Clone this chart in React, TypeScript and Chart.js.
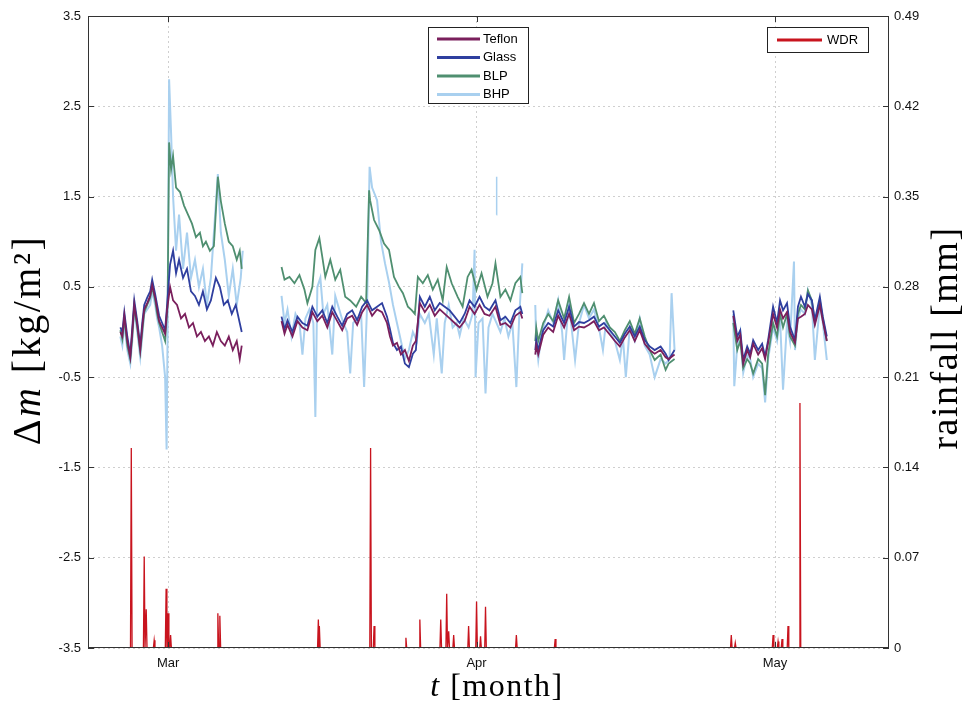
import React, { useEffect, useRef } from 'react';
import { Chart, registerables } from 'chart.js';

Chart.register(...registerables);

// x values are days counted from 1 March (Apr 1 = 31, May 1 = 61)
const monthTicks = [0, 31, 61];
const monthLabels = ['Mar', 'Apr', 'May'];
const leftTicks = [-3.5, -2.5, -1.5, -0.5, 0.5, 1.5, 2.5, 3.5];
const rightTicks = [0, 0.07, 0.14, 0.21, 0.28, 0.35, 0.42, 0.49];

type P = [number, number | null];

const teflon: P[] = [
  [-4.8, 0.0], [-4.6, -0.05], [-4.4, 0.18], [-4.1, -0.1], [-3.8, -0.28], [-3.6, 0.0], [-3.4, 0.3], [-3.1, 0.08], [-2.8, -0.2], [-2.6, 0.05],
  [-2.4, 0.25], [-2.1, 0.32], [-1.8, 0.4], [-1.6, 0.52], [-1.3, 0.38], [-1.1, 0.25], [-0.9, 0.12], [-0.6, 0.05], [-0.3, -0.02], [-0.1, 0.25],
  [0.2, 0.5], [0.5, 0.35], [0.9, 0.3], [1.3, 0.15], [1.7, 0.2], [2.1, 0.05], [2.5, 0.1], [2.9, -0.05], [3.3, 0.0], [3.7, -0.1],
  [4.1, -0.05], [4.5, -0.15], [4.9, 0.0], [5.3, -0.1], [5.7, -0.15], [6.1, -0.05], [6.5, -0.2], [6.9, -0.1], [7.2, -0.3], [7.4, -0.15],
  [9.5, null],
  [11.4, 0.12], [11.7, -0.02], [12.0, 0.08], [12.5, -0.05], [13.0, 0.12], [13.5, 0.05], [14.0, 0.02], [14.5, 0.22], [15.0, 0.12], [15.5, 0.18],
  [16.0, 0.05], [16.5, 0.22], [17.0, 0.12], [17.5, 0.02], [18.0, 0.15], [18.5, 0.18], [19.0, 0.08], [19.5, 0.22], [20.0, 0.3], [20.5, 0.18],
  [21.0, 0.25], [21.5, 0.22], [22.0, 0.1], [22.3, -0.05], [22.6, -0.15], [23.0, -0.12], [23.4, -0.25], [23.8, -0.2], [24.2, -0.32], [24.6, -0.15],
  [24.9, -0.1], [25.3, 0.32], [25.8, 0.22], [26.3, 0.3], [26.8, 0.18], [27.3, 0.25], [27.8, 0.2], [28.3, 0.15], [28.8, 0.1], [29.3, 0.05],
  [29.8, 0.12], [30.3, 0.28], [30.8, 0.2], [31.3, 0.3], [31.8, 0.2], [32.3, 0.18], [32.9, 0.28], [33.4, 0.08], [33.9, 0.1], [34.4, 0.05],
  [34.9, 0.18], [35.4, 0.22], [35.6, 0.15],
  [36.2, null],
  [36.9, -0.25], [37.0, -0.15], [37.2, -0.25], [37.7, -0.03], [38.2, 0.05], [38.7, 0.0], [39.2, 0.18], [39.8, 0.05], [40.3, 0.2], [40.8, 0.02],
  [41.3, 0.06], [41.8, 0.05], [42.3, 0.08], [42.8, 0.12], [43.3, 0.02], [43.8, 0.05], [44.4, -0.03], [44.9, -0.1], [45.4, -0.16], [45.9, -0.06],
  [46.4, 0.02], [46.9, -0.1], [47.4, 0.02], [47.9, -0.13], [48.4, -0.2], [48.9, -0.24], [49.5, -0.2], [50.0, -0.28], [50.3, -0.3], [50.9, -0.25],
  [54, null],
  [56.8, 0.18], [57.2, -0.1], [57.5, -0.03], [57.8, -0.35], [58.2, -0.2], [58.5, -0.28], [58.8, -0.13], [59.3, -0.25], [59.7, -0.18], [60.0, -0.3],
  [60.3, -0.12], [60.8, 0.2], [61.2, 0.05], [61.5, 0.25], [61.8, 0.15], [62.2, 0.22], [62.5, 0.0], [63.0, -0.12], [63.3, 0.15], [63.6, 0.17],
  [64.0, 0.2], [64.3, 0.3], [64.7, 0.25], [65.0, 0.08], [65.5, 0.3], [65.8, 0.12], [66.2, -0.1],
];

const glass: P[] = [
  [-4.8, 0.05], [-4.6, 0.0], [-4.4, 0.22], [-4.1, -0.05], [-3.8, -0.25], [-3.6, 0.05], [-3.4, 0.35], [-3.1, 0.12], [-2.8, -0.15], [-2.6, 0.1],
  [-2.4, 0.3], [-2.1, 0.38], [-1.8, 0.45], [-1.6, 0.58], [-1.3, 0.42], [-1.1, 0.3], [-0.9, 0.18], [-0.6, 0.1], [-0.3, 0.02], [-0.1, 0.3],
  [0.2, 0.75], [0.5, 0.9], [0.8, 0.65], [1.1, 0.8], [1.5, 0.6], [1.9, 0.7], [2.3, 0.45], [2.7, 0.4], [3.1, 0.3], [3.5, 0.45],
  [3.9, 0.25], [4.3, 0.35], [4.8, 0.6], [5.2, 0.5], [5.6, 0.3], [6.0, 0.35], [6.4, 0.2], [6.8, 0.3], [7.2, 0.1], [7.4, 0.0],
  [9.5, null],
  [11.4, 0.17], [11.7, 0.03], [12.0, 0.13], [12.5, 0.0], [13.0, 0.17], [13.5, 0.1], [14.0, 0.07], [14.5, 0.28], [15.0, 0.17], [15.5, 0.24],
  [16.0, 0.1], [16.5, 0.28], [17.0, 0.17], [17.5, 0.07], [18.0, 0.2], [18.5, 0.24], [19.0, 0.13], [19.5, 0.28], [20.0, 0.35], [20.5, 0.24],
  [21.0, 0.28], [21.5, 0.32], [22.0, 0.17], [22.3, 0.03], [22.6, -0.12], [23.0, -0.2], [23.4, -0.16], [23.8, -0.35], [24.2, -0.39], [24.6, -0.24],
  [24.9, -0.2], [25.3, 0.39], [25.8, 0.28], [26.3, 0.39], [26.8, 0.24], [27.3, 0.32], [27.8, 0.28], [28.3, 0.24], [28.8, 0.17], [29.3, 0.1],
  [29.8, 0.2], [30.3, 0.35], [30.8, 0.28], [31.3, 0.39], [31.8, 0.28], [32.3, 0.24], [32.9, 0.35], [33.4, 0.13], [33.9, 0.17], [34.4, 0.1],
  [34.9, 0.24], [35.4, 0.28], [35.6, 0.2],
  [36.2, null],
  [36.9, -0.2], [37.0, -0.09], [37.2, -0.2], [37.7, 0.02], [38.2, 0.1], [38.7, 0.06], [39.2, 0.24], [39.8, 0.1], [40.3, 0.28], [40.8, 0.06],
  [41.3, 0.11], [41.8, 0.1], [42.3, 0.13], [42.8, 0.17], [43.3, 0.06], [43.8, 0.1], [44.4, 0.02], [44.9, -0.05], [45.4, -0.12], [45.9, -0.02],
  [46.4, 0.06], [46.9, -0.05], [47.4, 0.06], [47.9, -0.09], [48.4, -0.16], [48.9, -0.2], [49.5, -0.16], [50.0, -0.24], [50.3, -0.31], [50.9, -0.2],
  [54, null],
  [56.8, 0.24], [57.2, -0.05], [57.5, 0.02], [57.8, -0.31], [58.2, -0.16], [58.5, -0.24], [58.8, -0.09], [59.3, -0.2], [59.7, -0.13], [60.0, -0.27],
  [60.3, -0.09], [60.8, 0.28], [61.2, 0.1], [61.5, 0.35], [61.8, 0.24], [62.2, 0.32], [62.5, 0.06], [63.0, -0.09], [63.3, 0.28], [63.6, 0.39],
  [64.0, 0.28], [64.3, 0.42], [64.7, 0.35], [65.0, 0.13], [65.5, 0.39], [65.8, 0.17], [66.2, -0.05],
];

const blp: P[] = [
  [-4.8, 0.02], [-4.6, -0.08], [-4.4, 0.15], [-4.1, -0.15], [-3.8, -0.3], [-3.6, -0.05], [-3.4, 0.28], [-3.1, 0.05], [-2.8, -0.22], [-2.6, 0.0],
  [-2.4, 0.22], [-2.1, 0.3], [-1.8, 0.38], [-1.6, 0.5], [-1.3, 0.35], [-1.1, 0.2], [-0.9, 0.1], [-0.6, 0.0], [-0.3, -0.1], [-0.05, 0.3],
  [0.1, 2.1], [0.3, 1.8], [0.5, 1.95], [0.8, 1.6], [1.2, 1.55], [1.6, 1.4], [2.0, 1.3], [2.4, 1.2], [2.8, 1.05], [3.2, 1.1],
  [3.5, 0.95], [3.8, 1.0], [4.2, 0.9], [4.6, 0.95], [5.0, 1.72], [5.3, 1.45], [5.7, 1.2], [6.1, 1.0], [6.5, 0.95], [6.9, 0.8],
  [7.2, 0.9], [7.4, 0.7],
  [9.5, null],
  [11.4, 0.72], [11.7, 0.58], [12.2, 0.61], [12.7, 0.54], [13.2, 0.63], [13.7, 0.47], [14.0, 0.32], [14.5, 0.5], [14.8, 0.91], [15.2, 1.04],
  [15.5, 0.83], [15.8, 0.61], [16.3, 0.8], [16.8, 0.58], [17.3, 0.69], [17.8, 0.39], [18.3, 0.35], [18.9, 0.28], [19.4, 0.39], [19.9, 0.32],
  [20.2, 1.57], [20.3, 1.46], [20.7, 1.24], [21.2, 1.13], [21.7, 0.98], [22.2, 0.91], [22.7, 0.61], [23.2, 0.5], [23.6, 0.43], [24.1, 0.28],
  [24.5, 0.24], [24.8, 0.2], [25.1, 0.61], [25.6, 0.54], [26.1, 0.63], [26.6, 0.47], [27.1, 0.58], [27.6, 0.35], [28.0, 0.72], [28.5, 0.54],
  [29.1, 0.39], [29.6, 0.28], [30.1, 0.61], [30.5, 0.69], [31.0, 0.47], [31.5, 0.65], [32.1, 0.39], [32.6, 0.54], [32.9, 0.76], [33.4, 0.39],
  [33.9, 0.47], [34.4, 0.35], [34.9, 0.54], [35.4, 0.61], [35.6, 0.43],
  [36.2, null],
  [36.9, -0.1], [37.0, 0.05], [37.2, -0.1], [37.7, 0.1], [38.2, 0.2], [38.7, 0.12], [39.2, 0.35], [39.8, 0.15], [40.3, 0.39], [40.8, 0.1],
  [41.3, 0.2], [41.8, 0.32], [42.3, 0.2], [42.8, 0.32], [43.3, 0.12], [43.8, 0.18], [44.4, 0.05], [44.9, 0.0], [45.4, -0.1], [45.9, 0.02],
  [46.4, 0.12], [46.9, -0.02], [47.4, 0.15], [47.9, -0.05], [48.4, -0.2], [48.9, -0.31], [49.5, -0.25], [50.0, -0.42], [50.3, -0.35], [50.9, -0.3],
  [54, null],
  [56.8, 0.1], [57.2, -0.2], [57.5, -0.1], [57.8, -0.4], [58.2, -0.3], [58.5, -0.35], [58.8, -0.46], [59.3, -0.3], [59.7, -0.35], [60.0, -0.7],
  [60.3, -0.25], [60.8, 0.1], [61.2, -0.05], [61.5, 0.2], [61.8, 0.05], [62.2, 0.2], [62.5, -0.05], [63.0, -0.15], [63.3, 0.2], [63.6, 0.3],
  [64.0, 0.25], [64.3, 0.46], [64.7, 0.35], [65.0, 0.1], [65.5, 0.35], [65.8, 0.15], [66.2, -0.1],
];

const bhp: P[] = [
  [-4.8, -0.05], [-4.6, -0.15], [-4.4, 0.1], [-4.1, -0.2], [-3.8, -0.35], [-3.6, -0.1], [-3.4, 0.25], [-3.1, 0.0], [-2.8, -0.28], [-2.6, -0.05],
  [-2.4, 0.2], [-2.1, 0.25], [-1.8, 0.3], [-1.6, 0.45], [-1.3, 0.3], [-1.1, 0.15], [-0.9, 0.05], [-0.6, -0.15], [-0.3, -0.5], [-0.15, -1.3],
  [-0.05, 0.0], [0.1, 2.8], [0.3, 2.2], [0.5, 1.5], [0.8, 0.9], [1.1, 1.3], [1.5, 0.7], [1.9, 1.1], [2.3, 0.6], [2.7, 0.8],
  [3.1, 0.5], [3.5, 0.7], [3.9, 0.3], [4.3, 0.6], [5.0, 1.75], [5.3, 1.1], [5.7, 0.8], [6.1, 0.4], [6.5, 0.7], [6.9, 0.3],
  [7.3, 0.6], [7.5, 0.9],
  [9.5, null],
  [11.4, 0.4], [11.7, 0.1], [12.0, 0.25], [12.4, -0.05], [12.8, 0.2], [13.2, 0.1], [13.5, -0.25], [13.8, 0.15], [14.2, 0.25], [14.6, 0.1],
  [14.8, -0.94], [15.0, 0.5], [15.3, 0.6], [15.6, 0.2], [16.0, 0.3], [16.5, -0.25], [16.8, 0.4], [17.2, 0.25], [17.6, 0.1], [18.0, 0.0],
  [18.3, -0.46], [18.6, 0.1], [19.0, 0.15], [19.4, 0.2], [19.7, -0.61], [20.0, 0.3], [20.25, 1.83], [20.5, 1.6], [21.0, 1.46], [21.4, 1.0],
  [21.8, 0.76], [22.2, 0.55], [22.6, 0.3], [23.0, 0.1], [23.4, -0.1], [23.8, -0.3], [24.2, -0.2], [24.6, 0.0], [25.0, -0.1], [25.3, 0.2],
  [25.8, 0.1], [26.2, 0.2], [26.7, -0.25], [27.0, 0.15], [27.5, -0.46], [27.8, 0.1], [28.2, 0.3], [28.6, 0.05], [29.0, 0.1], [29.3, -0.04],
  [29.7, 0.15], [30.2, 0.05], [30.6, 0.2], [30.8, 0.91], [30.9, -0.5], [31.2, 0.1], [31.6, 0.15], [31.9, -0.68], [32.2, 0.05], [32.6, 0.2],
  [33.0, 0.1], [33.4, 0.0], [33.8, 0.15], [34.2, -0.05], [34.6, 0.1], [35.0, -0.61], [35.3, 0.2], [35.6, 0.76],
  [36.2, null],
  [36.9, 0.3], [37.0, -0.1], [37.2, -0.31], [37.5, -0.05], [37.7, 0.05], [38.2, 0.24], [38.7, 0.1], [39.2, 0.35], [39.6, 0.0], [39.8, -0.31],
  [40.1, 0.1], [40.3, 0.3], [40.6, 0.0], [40.9, -0.31], [41.3, 0.1], [41.8, 0.3], [42.3, 0.15], [42.8, 0.25], [43.3, 0.05], [43.7, -0.2],
  [44.0, 0.1], [44.4, 0.0], [44.9, -0.1], [45.4, -0.31], [45.7, -0.05], [46.0, -0.5], [46.4, 0.05], [46.9, -0.1], [47.4, 0.15], [47.9, -0.15],
  [48.4, -0.25], [48.9, -0.5], [49.5, -0.3], [50.0, -0.35], [50.4, -0.3], [50.6, 0.43], [50.9, -0.2],
  [54, null],
  [56.8, 0.2], [56.9, -0.6], [57.2, -0.15], [57.5, 0.0], [57.8, -0.45], [58.2, -0.25], [58.5, -0.3], [58.8, -0.5], [59.3, -0.35], [59.7, -0.4],
  [60.0, -0.78], [60.3, -0.3], [60.8, 0.05], [61.2, -0.1], [61.5, 0.15], [61.8, -0.64], [62.2, 0.1], [62.5, -0.1], [62.9, 0.78], [63.0, -0.2],
  [63.3, 0.15], [63.6, 0.25], [64.0, 0.2], [64.3, 0.46], [64.7, 0.3], [65.0, -0.31], [65.5, 0.3], [65.8, 0.1], [66.2, -0.31],
];

// detached BHP fragment near 2 April
const bhpFragment: P[] = [[33.0, 1.3], [33.02, 1.72]];

// wind-driven rain events: [day, rainfall mm]
const wdrEvents: [number, number][] = [
  [-3.7, 0.155], [-2.4, 0.071], [-2.2, 0.03], [-1.4, 0.006], [-0.2, 0.046], [0.0, 0.027], [0.25, 0.01],
  [5.0, 0.027], [5.2, 0.025], [15.1, 0.022], [15.2, 0.017], [20.35, 0.155], [20.7, 0.017], [23.9, 0.008],
  [25.3, 0.022], [27.4, 0.022], [28.0, 0.042], [28.2, 0.013], [28.7, 0.01], [30.2, 0.017], [31.0, 0.036],
  [31.4, 0.009], [31.9, 0.032], [35.0, 0.01], [38.9, 0.007], [56.6, 0.01], [57.0, 0.004], [60.8, 0.01],
  [61.3, 0.005], [61.7, 0.007], [62.3, 0.017], [63.5, 0.19],
];

const COLORS = {
  teflon: '#7a1f5c',
  glass: '#2f3f9f',
  blp: '#4f8f70',
  bhp: '#a9d0ef',
  wdr: '#c8141e',
};

const toXY = (arr: P[]) => arr.map(([x, y]) => ({ x, y }));

function buildWdr() {
  const out: { x: number; y: number }[] = [];
  for (const [t, v] of wdrEvents) {
    out.push({ x: t - 0.08, y: 0 }, { x: t, y: v }, { x: t + 0.08, y: 0 });
  }
  return out;
}

const SERIF = '"Liberation Serif", "DejaVu Serif", serif';
const SANS = '"Liberation Sans", Arial, sans-serif';

function drawRuns(ctx: CanvasRenderingContext2D, runs: { t: string; f: string }[], cx: number, cy: number, rot: number, spacing: string, dy: number) {
  ctx.save();
  ctx.translate(cx, cy);
  ctx.rotate(rot);
  ctx.textBaseline = 'alphabetic';
  ctx.textAlign = 'left';
  ctx.fillStyle = '#000';
  (ctx as any).letterSpacing = spacing;
  let total = 0;
  const widths = runs.map((r) => {
    ctx.font = r.f;
    const w = ctx.measureText(r.t).width;
    total += w;
    return w;
  });
  let x = -total / 2;
  runs.forEach((r, i) => {
    ctx.font = r.f;
    ctx.fillText(r.t, x, dy);
    x += widths[i];
  });
  ctx.restore();
}

const decorPlugin = {
  id: 'decor',
  afterDraw(chart: any) {
    const ctx: CanvasRenderingContext2D = chart.ctx;
    const a = chart.chartArea;
    const ys = chart.scales.y;
    const xs = chart.scales.x;
    ctx.save();
    // axes box
    ctx.strokeStyle = '#333';
    ctx.lineWidth = 1;
    ctx.strokeRect(a.left + 0.5, a.top + 0.5, a.right - a.left - 1, a.bottom - a.top - 1);
    // inward ticks
    ctx.beginPath();
    for (const v of leftTicks) {
      const y = Math.round(ys.getPixelForValue(v)) + 0.5;
      ctx.moveTo(a.left, y); ctx.lineTo(a.left + 6, y);
      ctx.moveTo(a.right, y); ctx.lineTo(a.right - 6, y);
    }
    for (const v of monthTicks) {
      const x = Math.round(xs.getPixelForValue(v)) + 0.5;
      ctx.moveTo(x, a.bottom); ctx.lineTo(x, a.bottom - 6);
      ctx.moveTo(x, a.top); ctx.lineTo(x, a.top + 6);
    }
    ctx.stroke();

    // legend 1
    const items = [
      ['Teflon', COLORS.teflon],
      ['Glass', COLORS.glass],
      ['BLP', COLORS.blp],
      ['BHP', COLORS.bhp],
    ];
    const lx = 428, ly = 27, lw = 100, lh = 76;
    ctx.fillStyle = '#fff';
    ctx.fillRect(lx, ly, lw, lh);
    ctx.strokeStyle = '#222';
    ctx.strokeRect(lx + 0.5, ly + 0.5, lw, lh);
    ctx.font = `13px ${SANS}`;
    ctx.textBaseline = 'middle';
    items.forEach(([name, col], i) => {
      const y = ly + 12 + i * 18.5;
      ctx.strokeStyle = col;
      ctx.lineWidth = 3;
      ctx.beginPath();
      ctx.moveTo(lx + 9, y); ctx.lineTo(lx + 52, y);
      ctx.stroke();
      ctx.fillStyle = '#000';
      ctx.fillText(name, lx + 55, y);
    });
    // legend 2
    const wx = 767, wy = 27, ww = 101, wh = 25;
    ctx.fillStyle = '#fff';
    ctx.fillRect(wx, wy, ww, wh);
    ctx.strokeStyle = '#222';
    ctx.lineWidth = 1;
    ctx.strokeRect(wx + 0.5, wy + 0.5, ww, wh);
    ctx.strokeStyle = COLORS.wdr;
    ctx.lineWidth = 3;
    ctx.beginPath();
    ctx.moveTo(wx + 10, wy + 13); ctx.lineTo(wx + 55, wy + 13);
    ctx.stroke();
    ctx.fillStyle = '#000';
    ctx.fillText('WDR', wx + 60, wy + 13);
    ctx.restore();

    // axis titles
    const fl = 40;
    drawRuns(ctx, [
      { t: 'Δ', f: `${fl}px ${SERIF}` },
      { t: 'm', f: `italic ${fl}px ${SERIF}` },
      { t: ' [kg/m²]', f: `${fl}px ${SERIF}` },
    ], 27, 340, -Math.PI / 2, '2.5px', 13);
    const fb = 32;
    drawRuns(ctx, [
      { t: 't', f: `italic ${fb}px ${SERIF}` },
      { t: ' [month]', f: `${fb}px ${SERIF}` },
    ], 497, 686, 0, '1.5px', 10);
    const fr = 38;
    drawRuns(ctx, [
      { t: 'rainfall [mm]', f: `${fr}px ${SERIF}` },
    ], 945, 338, -Math.PI / 2, '1.5px', 12);
  },
};

export default function App() {
  const ref = useRef<HTMLCanvasElement>(null);
  useEffect(() => {
    if (!ref.current) return;
    const lineDs = (label: string, data: P[], color: string, order: number, width = 1.8) => ({
      label,
      data: toXY(data),
      borderColor: color,
      backgroundColor: color,
      borderWidth: width,
      pointRadius: 0,
      tension: 0,
      spanGaps: false,
      yAxisID: 'y',
      order,
    });
    const chart = new Chart(ref.current, {
      type: 'line',
      data: {
        datasets: [
          {
            label: 'WDR',
            data: buildWdr(),
            borderColor: COLORS.wdr,
            backgroundColor: COLORS.wdr,
            borderWidth: 1.3,
            pointRadius: 0,
            fill: false,
            yAxisID: 'y2',
            order: 0,
          } as any,
          lineDs('Teflon', teflon, COLORS.teflon, 1),
          lineDs('Glass', glass, COLORS.glass, 2),
          lineDs('BLP', blp, COLORS.blp, 3),
          lineDs('BHP', bhp, COLORS.bhp, 4, 2),
          lineDs('BHP ', bhpFragment, COLORS.bhp, 5, 1.5),
        ],
      },
      options: {
        animation: false,
        responsive: false,
        devicePixelRatio: 1,
        layout: { padding: { top: 16, left: 0, right: 0, bottom: 0 } },
        plugins: { legend: { display: false }, tooltip: { enabled: false } },
        scales: {
          x: {
            type: 'linear',
            min: -8.05,
            max: 72.45,
            afterBuildTicks: (s: any) => { s.ticks = monthTicks.map((v) => ({ value: v })); },
            afterFit: (s: any) => { s.height = 61; },
            ticks: {
              callback: (v: any) => monthLabels[monthTicks.indexOf(Number(v))] ?? '',
              font: { family: SANS, size: 13 },
              color: '#111',
              padding: 8,
              maxRotation: 0,
            },
            grid: { color: '#cfcfcf', drawTicks: false, lineWidth: 1 },
            border: { display: false, dash: [2, 3] },
          },
          y: {
            type: 'linear',
            position: 'left',
            min: -3.5,
            max: 3.5,
            afterBuildTicks: (s: any) => { s.ticks = leftTicks.map((v) => ({ value: v })); },
            afterFit: (s: any) => { s.width = 88; },
            ticks: {
              callback: (v: any) => String(v),
              font: { family: SANS, size: 13 },
              color: '#111',
              padding: 7,
            },
            grid: { color: '#cfcfcf', drawTicks: false, lineWidth: 1 },
            border: { display: false, dash: [2, 3] },
          },
          y2: {
            type: 'linear',
            position: 'right',
            min: 0,
            max: 0.49,
            afterBuildTicks: (s: any) => { s.ticks = rightTicks.map((v) => ({ value: v })); },
            afterFit: (s: any) => { s.width = 82; },
            ticks: {
              callback: (v: any) => (Number(v) === 0 ? '0' : Number(v).toFixed(2)),
              font: { family: SANS, size: 13 },
              color: '#111',
              padding: 5,
            },
            grid: { display: false, drawTicks: false },
            border: { display: false },
          },
        },
      },
      plugins: [decorPlugin],
    });
    return () => chart.destroy();
  }, []);
  return (
    <div style={{ position: 'fixed', left: 0, top: 0, width: 971, height: 709, background: '#fff' }}>
      <canvas ref={ref} width={971} height={709} style={{ width: 971, height: 709, display: 'block' }} />
    </div>
  );
}
